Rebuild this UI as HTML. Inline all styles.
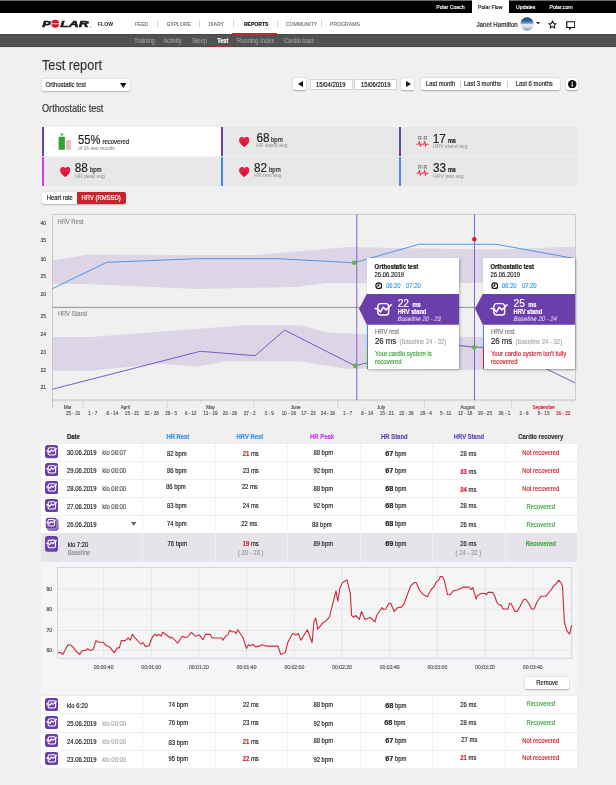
<!DOCTYPE html>
<html><head><meta charset="utf-8"><title>Test report</title>
<style>
html,body{margin:0;padding:0;}
body{width:616px;height:785px;overflow:hidden;position:relative;background:#f0f0f0;font-family:"Liberation Sans", sans-serif;}
.t{position:absolute;line-height:1;white-space:nowrap;-webkit-text-stroke:0.15px currentColor;}
.r{position:absolute;}
.r svg,svg.r{display:block;}
.t b{font-weight:bold;line-height:0;}
</style></head><body>
<div id="wrap" style="position:absolute;left:0;top:0;width:616px;height:785px;overflow:hidden;background:#f0f0f0;will-change:transform">
<div class="r" style="left:0.00px;top:0.00px;width:616.00px;height:12.80px;background:#000;"></div>
<div class="r" style="left:0.00px;top:0.00px;width:616.00px;height:1.00px;background:#707070;"></div>
<div class="r" style="left:472.00px;top:0.00px;width:37.20px;height:12.80px;background:#fff;"></div>
<div class="t" style="left:436.20px;top:5.00px;font-size:5.2px;color:#fff;">Polar Coach</div>
<div class="t" style="left:478.00px;top:5.00px;font-size:5.2px;color:#111;">Polar Flow</div>
<div class="t" style="left:516.00px;top:5.00px;font-size:5.2px;color:#fff;">Updates</div>
<div class="t" style="left:549.60px;top:5.00px;font-size:5.2px;color:#fff;">Polar.com</div>
<div class="r" style="left:0.00px;top:12.80px;width:616.00px;height:21.60px;background:#fff;"></div>
<div class="r" style="left:0.00px;top:34.40px;width:616.00px;height:12.40px;background:#525252;"></div>
<div class="r" style="left:0.00px;top:34.40px;width:616.00px;height:0.80px;background:#474747;"></div>
<div class="r" style="left:0.00px;top:46.20px;width:616.00px;height:0.60px;background:#484848;"></div>
<div class="r" style="left:0.00px;top:46.80px;width:616.00px;height:1.20px;background:#e4e4e4;"></div>
<svg class="r" style="left:40px;top:18px" width="54" height="12" viewBox="0 0 54 12">
<g fill="#1a1a1a" stroke="#1a1a1a" stroke-width="0.55" font-family="Liberation Sans" font-weight="bold" font-style="italic" font-size="9.8">
<text x="2.2" y="9.3" textLength="8.6" lengthAdjust="spacingAndGlyphs">P</text>
<text x="20.3" y="9.3" textLength="28.4" lengthAdjust="spacingAndGlyphs">LAR</text>
</g>
<circle cx="15.3" cy="5.8" r="4.0" fill="#d7192d"/>
<rect x="10.5" y="5.45" width="9.6" height="0.75" fill="#fff"/>
<circle cx="50.6" cy="9.0" r="0.55" fill="#444"/>
</svg>
<svg class="r" style="left:97px;top:21px" width="18" height="6" viewBox="0 0 18 6"><text x="1" y="4.9" font-family="Liberation Sans" font-weight="bold" font-size="4.5" fill="#222" textLength="15" lengthAdjust="spacingAndGlyphs">FLOW</text></svg>
<div class="t" style="left:134.70px;top:22.00px;font-size:5.1px;color:#777;">FEED</div>
<div class="t" style="left:166.90px;top:22.00px;font-size:5.1px;color:#777;">EXPLORE</div>
<div class="t" style="left:208.40px;top:22.00px;font-size:5.1px;color:#777;">DIARY</div>
<div class="t" style="left:243.90px;top:22.00px;font-size:5.1px;color:#111;font-weight:bold;">REPORTS</div>
<div class="t" style="left:285.80px;top:22.00px;font-size:5.1px;color:#777;">COMMUNITY</div>
<div class="t" style="left:330.10px;top:22.00px;font-size:5.1px;color:#777;">PROGRAMS</div>
<div class="r" style="left:156.60px;top:20.20px;width:0.70px;height:7.00px;background:#d6d6d6;"></div>
<div class="r" style="left:198.60px;top:20.20px;width:0.70px;height:7.00px;background:#d6d6d6;"></div>
<div class="r" style="left:232.60px;top:20.20px;width:0.70px;height:7.00px;background:#d6d6d6;"></div>
<div class="r" style="left:277.20px;top:20.20px;width:0.70px;height:7.00px;background:#d6d6d6;"></div>
<div class="r" style="left:320.50px;top:20.20px;width:0.70px;height:7.00px;background:#d6d6d6;"></div>
<div class="r" style="left:232.00px;top:33.20px;width:45.00px;height:1.60px;background:#c4262f;"></div>
<div class="t" style="left:476.50px;top:21.00px;font-size:6.2px;color:#222;transform:scaleY(1.1);transform-origin:0 0;">Janet Hamilton</div>
<svg class="r" style="left:519.5px;top:16.8px" width="14" height="14" viewBox="0 0 14 14">
<defs><clipPath id="av"><circle cx="7" cy="7" r="6.7"/></clipPath>
<linearGradient id="sky" x1="0" y1="0" x2="0" y2="1"><stop offset="0" stop-color="#1c3a68"/><stop offset="0.3" stop-color="#3a64a0"/><stop offset="0.47" stop-color="#8fb0d8"/><stop offset="0.55" stop-color="#eef2f7"/><stop offset="0.75" stop-color="#c8d2de"/><stop offset="1" stop-color="#7d8ea6"/></linearGradient></defs>
<g clip-path="url(#av)"><rect width="14" height="14" fill="url(#sky)"/></g></svg>
<svg class="r" style="left:536px;top:21.5px" width="4" height="3" viewBox="0 0 4 3"><path d="M0 0H4L2 2.6Z" fill="#222"/></svg>
<svg class="r" style="left:548px;top:19.6px" width="9" height="9" viewBox="0 0 24 24"><path d="M12 2.5l2.9 6.6 7.1.6-5.4 4.7 1.6 7-6.2-3.7-6.2 3.7 1.6-7L2 9.7l7.1-.6z" fill="none" stroke="#111" stroke-width="2.7" stroke-linejoin="round"/></svg>
<svg class="r" style="left:565.5px;top:20.5px" width="9.5" height="9" viewBox="0 0 19 18"><path d="M1.5 1.5h16v11.5h-7.5l-2.5 2.8v-2.8h-6z" fill="none" stroke="#111" stroke-width="2.4" stroke-linejoin="miter"/></svg>
<div class="t" style="left:134.20px;top:39.00px;font-size:5.8px;color:#9a9a9a;transform:scaleY(1.1);transform-origin:0 0;">Training</div>
<div class="t" style="left:163.40px;top:39.00px;font-size:5.8px;color:#9a9a9a;transform:scaleY(1.1);transform-origin:0 0;">Activity</div>
<div class="t" style="left:192.20px;top:39.00px;font-size:5.8px;color:#9a9a9a;transform:scaleY(1.1);transform-origin:0 0;">Sleep</div>
<div class="t" style="left:217.20px;top:38.00px;font-size:5.6px;color:#fff;transform:scaleY(1.2);transform-origin:0 0;font-weight:bold;">Test</div>
<div class="t" style="left:237.00px;top:39.00px;font-size:5.8px;color:#9a9a9a;transform:scaleY(1.1);transform-origin:0 0;">Running Index</div>
<div class="t" style="left:283.90px;top:39.00px;font-size:5.8px;color:#9a9a9a;transform:scaleY(1.1);transform-origin:0 0;">Cardio load</div>
<div class="r" style="left:213.70px;top:45.90px;width:18.50px;height:1.60px;background:#c4262f;"></div>
<div class="t" style="left:42.00px;top:59.00px;font-size:12.7px;color:#333;transform:scaleY(1.1);transform-origin:0 0;">Test report</div>
<div class="r" style="left:42.00px;top:78.80px;width:88.30px;height:12.50px;background:#fff;border-radius:2px;box-shadow:0 0.5px 1.5px rgba(0,0,0,0.25);"></div>
<div class="t" style="left:45.60px;top:81.00px;font-size:6.0px;color:#222;transform:scaleY(1.1);transform-origin:0 0;">Orthostatic test</div>
<svg class="r" style="left:120px;top:82.5px" width="6.5" height="5" viewBox="0 0 6.5 5"><path d="M0 0H6.5L3.25 5Z" fill="#111"/></svg>
<div class="t" style="left:42.00px;top:104.00px;font-size:9.15px;color:#333;transform:scaleY(1.1);transform-origin:0 0;">Orthostatic test</div>
<div class="r" style="left:293.00px;top:78.40px;width:13.10px;height:11.80px;background:#fff;border-radius:2px;box-shadow:0 0.5px 1.5px rgba(0,0,0,0.3);"></div>
<svg class="r" style="left:297.5px;top:81.3px" width="5" height="6" viewBox="0 0 5 6"><path d="M5 0V6L0 3Z" fill="#111"/></svg>
<div class="r" style="left:309.50px;top:78.80px;width:43.00px;height:11.40px;background:#fff;box-sizing:border-box;border:0.7px solid #d6d6d6;"></div>
<div class="t" style="left:316.10px;top:83.00px;font-size:5.9px;color:#111;transform:scaleY(1.1);transform-origin:0 0;">15/04/2019</div>
<div class="r" style="left:354.30px;top:78.80px;width:43.20px;height:11.40px;background:#fff;box-sizing:border-box;border:0.7px solid #d6d6d6;"></div>
<div class="t" style="left:361.10px;top:83.00px;font-size:5.9px;color:#111;transform:scaleY(1.1);transform-origin:0 0;">15/06/2019</div>
<div class="r" style="left:401.00px;top:78.40px;width:13.10px;height:11.80px;background:#fff;border-radius:2px;box-shadow:0 0.5px 1.5px rgba(0,0,0,0.3);"></div>
<svg class="r" style="left:405.5px;top:81.3px" width="5" height="6" viewBox="0 0 5 6"><path d="M0 0V6L5 3Z" fill="#111"/></svg>
<div class="r" style="left:421.10px;top:78.10px;width:139.00px;height:11.90px;background:#fff;border-radius:2px;box-shadow:0 0.5px 1.5px rgba(0,0,0,0.3);"></div>
<div class="t" style="left:426.00px;top:82.00px;font-size:5.9px;color:#222;transform:scaleY(1.1);transform-origin:0 0;">Last month</div>
<div class="r" style="left:459.50px;top:80.50px;width:0.60px;height:7.00px;background:#ccc;"></div>
<div class="t" style="left:463.90px;top:82.00px;font-size:5.9px;color:#222;transform:scaleY(1.1);transform-origin:0 0;">Last 3 months</div>
<div class="r" style="left:507.00px;top:80.50px;width:0.60px;height:7.00px;background:#ccc;"></div>
<div class="t" style="left:515.80px;top:82.00px;font-size:5.9px;color:#222;transform:scaleY(1.1);transform-origin:0 0;">Last 6 months</div>
<div class="r" style="left:566.40px;top:78.10px;width:12.10px;height:12.10px;background:#fff;border-radius:2px;box-shadow:0 0.5px 1.5px rgba(0,0,0,0.3);"></div>
<svg class="r" style="left:568.3px;top:80px" width="8.4" height="8.4" viewBox="0 0 10 10"><circle cx="5" cy="5" r="5" fill="#111"/><rect x="4.3" y="4.1" width="1.4" height="3.8" fill="#fff"/><circle cx="5" cy="2.7" r="0.8" fill="#fff"/></svg>
<div class="r" style="left:42.00px;top:127.30px;width:536.20px;height:58.40px;background:#e8e8e8;"></div>
<div class="r" style="left:42.00px;top:127.30px;width:179.00px;height:29.20px;background:#fff;"></div>
<div class="r" style="left:42.00px;top:156.40px;width:536.20px;height:0.70px;background:#efefef;"></div>
<div class="r" style="left:42.00px;top:127.30px;width:2.00px;height:29.10px;background:#6b3fab;"></div>
<div class="r" style="left:42.00px;top:156.80px;width:2.00px;height:28.90px;background:#d23be2;"></div>
<div class="r" style="left:221.00px;top:127.30px;width:2.00px;height:29.10px;background:#6b3fab;"></div>
<div class="r" style="left:221.00px;top:156.80px;width:2.00px;height:28.90px;background:#3c8fe3;"></div>
<div class="r" style="left:399.30px;top:127.30px;width:2.00px;height:29.10px;background:#6b3fab;"></div>
<div class="r" style="left:399.30px;top:156.80px;width:2.00px;height:28.90px;background:#3c8fe3;"></div>
<svg class="r" style="left:58px;top:133px" width="14" height="17" viewBox="0 0 14 17">
<rect x="0.6" y="3.8" width="6.3" height="13" rx="0.6" fill="#33a02f"/>
<path d="M2.4 0.4H5.5L3.95 3.2Z" fill="#33a02f"/>
<rect x="8" y="7" width="5" height="9.8" fill="#efbcc5"/></svg>
<div class="t" style="left:78.00px;top:134.00px;font-size:11.2px;color:#222;transform:scaleY(1.1);transform-origin:0 0;">55%</div>
<div class="t" style="left:102.40px;top:138.00px;font-size:6.0px;color:#222;transform:scaleY(1.1);transform-origin:0 0;">recovered</div>
<div class="t" style="left:78.00px;top:146.00px;font-size:5.0px;color:#a6a6a6;">of 16 test results</div>
<svg class="r" style="left:59.7px;top:166.8px" width="10.6" height="10" viewBox="0 0 10.6 10"><path d="M5.3 10 C2 7.4 0 5.6 0 3.2 0 1.4 1.3 0 3 0 4 0 4.8 .5 5.3 1.3 5.8 .5 6.6 0 7.6 0 9.3 0 10.6 1.4 10.6 3.2 10.6 5.6 8.6 7.4 5.3 10Z" fill="#e81e40"/><path d="M5.3 10 C3.6 8.7 2.4 7.6 1.7 6.6 L5.3 4 8.9 6.6 C8.2 7.6 7 8.7 5.3 10Z" fill="#c8102e" opacity="0.6"/></svg>
<div class="t" style="left:74.80px;top:162.00px;font-size:11.8px;color:#222;transform:scaleY(1.1);transform-origin:0 0;">88</div>
<div class="t" style="left:89.90px;top:166.00px;font-size:6.0px;color:#222;transform:scaleY(1.1);transform-origin:0 0;">bpm</div>
<div class="t" style="left:75.00px;top:174.00px;font-size:5.2px;color:#a6a6a6;">HR peak avg</div>
<svg class="r" style="left:238.6px;top:137px" width="10.6" height="10" viewBox="0 0 10.6 10"><path d="M5.3 10 C2 7.4 0 5.6 0 3.2 0 1.4 1.3 0 3 0 4 0 4.8 .5 5.3 1.3 5.8 .5 6.6 0 7.6 0 9.3 0 10.6 1.4 10.6 3.2 10.6 5.6 8.6 7.4 5.3 10Z" fill="#e81e40"/><path d="M5.3 10 C3.6 8.7 2.4 7.6 1.7 6.6 L5.3 4 8.9 6.6 C8.2 7.6 7 8.7 5.3 10Z" fill="#c8102e" opacity="0.6"/></svg>
<div class="t" style="left:256.50px;top:132.00px;font-size:11.8px;color:#222;transform:scaleY(1.1);transform-origin:0 0;">68</div>
<div class="t" style="left:271.00px;top:136.00px;font-size:6.0px;color:#222;transform:scaleY(1.1);transform-origin:0 0;">bpm</div>
<div class="t" style="left:256.00px;top:143.00px;font-size:5.2px;color:#a6a6a6;">HR stand avg</div>
<svg class="r" style="left:238.6px;top:167px" width="10.6" height="10" viewBox="0 0 10.6 10"><path d="M5.3 10 C2 7.4 0 5.6 0 3.2 0 1.4 1.3 0 3 0 4 0 4.8 .5 5.3 1.3 5.8 .5 6.6 0 7.6 0 9.3 0 10.6 1.4 10.6 3.2 10.6 5.6 8.6 7.4 5.3 10Z" fill="#e81e40"/><path d="M5.3 10 C3.6 8.7 2.4 7.6 1.7 6.6 L5.3 4 8.9 6.6 C8.2 7.6 7 8.7 5.3 10Z" fill="#c8102e" opacity="0.6"/></svg>
<div class="t" style="left:253.90px;top:162.00px;font-size:11.8px;color:#222;transform:scaleY(1.1);transform-origin:0 0;">82</div>
<div class="t" style="left:269.00px;top:166.00px;font-size:6.0px;color:#222;transform:scaleY(1.1);transform-origin:0 0;">bpm</div>
<div class="t" style="left:254.00px;top:173.00px;font-size:5.2px;color:#a6a6a6;">HR rest avg</div>
<svg class="r" style="left:416px;top:135.3px" width="13" height="12" viewBox="0 0 13 12">
<text x="6.6" y="4.5" font-family="Liberation Sans" font-size="5.2" fill="#6e6e6e" stroke="#6e6e6e" stroke-width="0.15" text-anchor="middle">R·R</text>
<path d="M0.4 9.2H2.6L3.5 6.2 4.3 11.4 5 9.2H7.8L8.7 6.2 9.5 11.4 10.2 9.2H12.6" fill="none" stroke="#e83a5a" stroke-width="1.1" stroke-linejoin="round"/></svg>
<div class="t" style="left:432.80px;top:133.00px;font-size:11.8px;color:#222;transform:scaleY(1.1);transform-origin:0 0;">17</div>
<div class="t" style="left:447.90px;top:138.00px;font-size:5.6px;color:#222;transform:scaleY(1.2);transform-origin:0 0;font-weight:bold;">ms</div>
<div class="t" style="left:432.80px;top:144.00px;font-size:5.2px;color:#a6a6a6;">HRV stand avg</div>
<svg class="r" style="left:416px;top:164.3px" width="13" height="12" viewBox="0 0 13 12">
<text x="6.6" y="4.5" font-family="Liberation Sans" font-size="5.2" fill="#6e6e6e" stroke="#6e6e6e" stroke-width="0.15" text-anchor="middle">R·R</text>
<path d="M0.4 9.2H2.6L3.5 6.2 4.3 11.4 5 9.2H7.8L8.7 6.2 9.5 11.4 10.2 9.2H12.6" fill="none" stroke="#e83a5a" stroke-width="1.1" stroke-linejoin="round"/></svg>
<div class="t" style="left:433.00px;top:162.00px;font-size:11.8px;color:#222;transform:scaleY(1.1);transform-origin:0 0;">33</div>
<div class="t" style="left:447.90px;top:167.00px;font-size:5.6px;color:#222;transform:scaleY(1.2);transform-origin:0 0;font-weight:bold;">ms</div>
<div class="t" style="left:433.00px;top:174.00px;font-size:5.2px;color:#a6a6a6;">HRV rest avg</div>
<div class="r" style="left:41.80px;top:191.80px;width:84.00px;height:12.40px;background:#fff;border-radius:2px;box-shadow:0 0.5px 1.5px rgba(0,0,0,0.25);"></div>
<div class="r" style="left:76.90px;top:191.80px;width:48.90px;height:12.40px;background:#c8222d;border-radius:0 2px 2px 0;"></div>
<div class="t" style="left:46.70px;top:196.00px;font-size:5.9px;color:#222;transform:scaleY(1.1);transform-origin:0 0;">Heart rate</div>
<div class="t" style="left:81.60px;top:196.00px;font-size:5.9px;color:#fff;transform:scaleY(1.1);transform-origin:0 0;">HRV (RMSSD)</div>
<svg class="r" style="left:0;top:0" width="616" height="785" viewBox="0 0 616 785"><polygon points="52.5,260.3 87.3,254.8 254.7,255.0 348.8,247.0 420.0,248.5 500.0,249.5 575.0,246.5 575.0,282.5 460.0,283.0 326.0,283.0 296.9,287.0 196.0,288.9 87.0,284.0 52.5,284.0" fill="#dcd5e6"/><polygon points="52.5,337.0 90.6,337.0 244.8,325.3 302.0,325.5 328.6,332.7 380.0,334.5 474.0,337.0 575.0,337.0 575.0,370.0 474.0,370.0 346.0,368.7 302.0,361.4 224.5,361.4 196.1,366.7 159.6,363.8 90.6,370.7 52.5,370.7" fill="#dcd5e6"/><path d="M52.5 214.4H575.5V400" fill="none" stroke="#c6c6c6" stroke-width="0.9"/><path d="M52.5 214.4V408" fill="none" stroke="#c4c4c4" stroke-width="0.9"/><path d="M52.5 400H575.5" fill="none" stroke="#bdbdbd" stroke-width="0.9"/><path d="M52.5 307.4H575" fill="none" stroke="#8a8a8a" stroke-width="0.9"/><path d="M55.0 400V401.8" stroke="#d4d4d4" stroke-width="0.5"/><path d="M57.8 400V401.8" stroke="#d4d4d4" stroke-width="0.5"/><path d="M60.6 400V401.8" stroke="#d4d4d4" stroke-width="0.5"/><path d="M63.4 400V403" stroke="#cccccc" stroke-width="0.6"/><path d="M66.2 400V401.8" stroke="#d4d4d4" stroke-width="0.5"/><path d="M69.0 400V401.8" stroke="#d4d4d4" stroke-width="0.5"/><path d="M71.8 400V401.8" stroke="#d4d4d4" stroke-width="0.5"/><path d="M74.6 400V401.8" stroke="#d4d4d4" stroke-width="0.5"/><path d="M77.4 400V401.8" stroke="#d4d4d4" stroke-width="0.5"/><path d="M80.2 400V401.8" stroke="#d4d4d4" stroke-width="0.5"/><path d="M83.0 400V408.2" stroke="#c8c8c8" stroke-width="0.7"/><path d="M85.8 400V401.8" stroke="#d4d4d4" stroke-width="0.5"/><path d="M88.6 400V401.8" stroke="#d4d4d4" stroke-width="0.5"/><path d="M91.4 400V401.8" stroke="#d4d4d4" stroke-width="0.5"/><path d="M94.2 400V401.8" stroke="#d4d4d4" stroke-width="0.5"/><path d="M97.0 400V401.8" stroke="#d4d4d4" stroke-width="0.5"/><path d="M99.8 400V401.8" stroke="#d4d4d4" stroke-width="0.5"/><path d="M102.6 400V403" stroke="#cccccc" stroke-width="0.6"/><path d="M105.4 400V401.8" stroke="#d4d4d4" stroke-width="0.5"/><path d="M108.2 400V401.8" stroke="#d4d4d4" stroke-width="0.5"/><path d="M111.0 400V401.8" stroke="#d4d4d4" stroke-width="0.5"/><path d="M113.8 400V401.8" stroke="#d4d4d4" stroke-width="0.5"/><path d="M116.6 400V401.8" stroke="#d4d4d4" stroke-width="0.5"/><path d="M119.4 400V401.8" stroke="#d4d4d4" stroke-width="0.5"/><path d="M122.2 400V403" stroke="#cccccc" stroke-width="0.6"/><path d="M125.0 400V401.8" stroke="#d4d4d4" stroke-width="0.5"/><path d="M127.8 400V401.8" stroke="#d4d4d4" stroke-width="0.5"/><path d="M130.6 400V401.8" stroke="#d4d4d4" stroke-width="0.5"/><path d="M133.4 400V401.8" stroke="#d4d4d4" stroke-width="0.5"/><path d="M136.2 400V401.8" stroke="#d4d4d4" stroke-width="0.5"/><path d="M139.0 400V401.8" stroke="#d4d4d4" stroke-width="0.5"/><path d="M141.8 400V403" stroke="#cccccc" stroke-width="0.6"/><path d="M144.6 400V401.8" stroke="#d4d4d4" stroke-width="0.5"/><path d="M147.4 400V401.8" stroke="#d4d4d4" stroke-width="0.5"/><path d="M150.2 400V401.8" stroke="#d4d4d4" stroke-width="0.5"/><path d="M153.0 400V401.8" stroke="#d4d4d4" stroke-width="0.5"/><path d="M155.8 400V401.8" stroke="#d4d4d4" stroke-width="0.5"/><path d="M158.6 400V401.8" stroke="#d4d4d4" stroke-width="0.5"/><path d="M161.4 400V403" stroke="#cccccc" stroke-width="0.6"/><path d="M164.2 400V401.8" stroke="#d4d4d4" stroke-width="0.5"/><path d="M167.0 400V408.2" stroke="#c8c8c8" stroke-width="0.7"/><path d="M169.8 400V401.8" stroke="#d4d4d4" stroke-width="0.5"/><path d="M172.6 400V401.8" stroke="#d4d4d4" stroke-width="0.5"/><path d="M175.4 400V401.8" stroke="#d4d4d4" stroke-width="0.5"/><path d="M178.2 400V401.8" stroke="#d4d4d4" stroke-width="0.5"/><path d="M181.0 400V403" stroke="#cccccc" stroke-width="0.6"/><path d="M183.8 400V401.8" stroke="#d4d4d4" stroke-width="0.5"/><path d="M186.6 400V401.8" stroke="#d4d4d4" stroke-width="0.5"/><path d="M189.4 400V401.8" stroke="#d4d4d4" stroke-width="0.5"/><path d="M192.2 400V401.8" stroke="#d4d4d4" stroke-width="0.5"/><path d="M195.0 400V401.8" stroke="#d4d4d4" stroke-width="0.5"/><path d="M197.8 400V401.8" stroke="#d4d4d4" stroke-width="0.5"/><path d="M200.6 400V403" stroke="#cccccc" stroke-width="0.6"/><path d="M203.4 400V401.8" stroke="#d4d4d4" stroke-width="0.5"/><path d="M206.2 400V401.8" stroke="#d4d4d4" stroke-width="0.5"/><path d="M209.0 400V401.8" stroke="#d4d4d4" stroke-width="0.5"/><path d="M211.8 400V401.8" stroke="#d4d4d4" stroke-width="0.5"/><path d="M214.6 400V401.8" stroke="#d4d4d4" stroke-width="0.5"/><path d="M217.4 400V401.8" stroke="#d4d4d4" stroke-width="0.5"/><path d="M220.2 400V403" stroke="#cccccc" stroke-width="0.6"/><path d="M223.0 400V401.8" stroke="#d4d4d4" stroke-width="0.5"/><path d="M225.8 400V401.8" stroke="#d4d4d4" stroke-width="0.5"/><path d="M228.6 400V401.8" stroke="#d4d4d4" stroke-width="0.5"/><path d="M231.4 400V401.8" stroke="#d4d4d4" stroke-width="0.5"/><path d="M234.2 400V401.8" stroke="#d4d4d4" stroke-width="0.5"/><path d="M237.0 400V401.8" stroke="#d4d4d4" stroke-width="0.5"/><path d="M239.8 400V403" stroke="#cccccc" stroke-width="0.6"/><path d="M242.6 400V401.8" stroke="#d4d4d4" stroke-width="0.5"/><path d="M245.4 400V401.8" stroke="#d4d4d4" stroke-width="0.5"/><path d="M248.2 400V401.8" stroke="#d4d4d4" stroke-width="0.5"/><path d="M251.0 400V401.8" stroke="#d4d4d4" stroke-width="0.5"/><path d="M253.8 400V408.2" stroke="#c8c8c8" stroke-width="0.7"/><path d="M256.6 400V401.8" stroke="#d4d4d4" stroke-width="0.5"/><path d="M259.4 400V403" stroke="#cccccc" stroke-width="0.6"/><path d="M262.2 400V401.8" stroke="#d4d4d4" stroke-width="0.5"/><path d="M265.0 400V401.8" stroke="#d4d4d4" stroke-width="0.5"/><path d="M267.8 400V401.8" stroke="#d4d4d4" stroke-width="0.5"/><path d="M270.6 400V401.8" stroke="#d4d4d4" stroke-width="0.5"/><path d="M273.4 400V401.8" stroke="#d4d4d4" stroke-width="0.5"/><path d="M276.2 400V401.8" stroke="#d4d4d4" stroke-width="0.5"/><path d="M279.0 400V403" stroke="#cccccc" stroke-width="0.6"/><path d="M281.8 400V401.8" stroke="#d4d4d4" stroke-width="0.5"/><path d="M284.6 400V401.8" stroke="#d4d4d4" stroke-width="0.5"/><path d="M287.4 400V401.8" stroke="#d4d4d4" stroke-width="0.5"/><path d="M290.2 400V401.8" stroke="#d4d4d4" stroke-width="0.5"/><path d="M293.0 400V401.8" stroke="#d4d4d4" stroke-width="0.5"/><path d="M295.8 400V401.8" stroke="#d4d4d4" stroke-width="0.5"/><path d="M298.6 400V403" stroke="#cccccc" stroke-width="0.6"/><path d="M301.4 400V401.8" stroke="#d4d4d4" stroke-width="0.5"/><path d="M304.2 400V401.8" stroke="#d4d4d4" stroke-width="0.5"/><path d="M307.0 400V401.8" stroke="#d4d4d4" stroke-width="0.5"/><path d="M309.8 400V401.8" stroke="#d4d4d4" stroke-width="0.5"/><path d="M312.6 400V401.8" stroke="#d4d4d4" stroke-width="0.5"/><path d="M315.4 400V401.8" stroke="#d4d4d4" stroke-width="0.5"/><path d="M318.2 400V403" stroke="#cccccc" stroke-width="0.6"/><path d="M321.0 400V401.8" stroke="#d4d4d4" stroke-width="0.5"/><path d="M323.8 400V401.8" stroke="#d4d4d4" stroke-width="0.5"/><path d="M326.6 400V401.8" stroke="#d4d4d4" stroke-width="0.5"/><path d="M329.4 400V401.8" stroke="#d4d4d4" stroke-width="0.5"/><path d="M332.2 400V401.8" stroke="#d4d4d4" stroke-width="0.5"/><path d="M335.0 400V401.8" stroke="#d4d4d4" stroke-width="0.5"/><path d="M337.8 400V408.2" stroke="#c8c8c8" stroke-width="0.7"/><path d="M340.6 400V401.8" stroke="#d4d4d4" stroke-width="0.5"/><path d="M343.4 400V401.8" stroke="#d4d4d4" stroke-width="0.5"/><path d="M346.2 400V401.8" stroke="#d4d4d4" stroke-width="0.5"/><path d="M349.0 400V401.8" stroke="#d4d4d4" stroke-width="0.5"/><path d="M351.8 400V401.8" stroke="#d4d4d4" stroke-width="0.5"/><path d="M354.6 400V401.8" stroke="#d4d4d4" stroke-width="0.5"/><path d="M357.4 400V403" stroke="#cccccc" stroke-width="0.6"/><path d="M360.2 400V401.8" stroke="#d4d4d4" stroke-width="0.5"/><path d="M363.0 400V401.8" stroke="#d4d4d4" stroke-width="0.5"/><path d="M365.8 400V401.8" stroke="#d4d4d4" stroke-width="0.5"/><path d="M368.6 400V401.8" stroke="#d4d4d4" stroke-width="0.5"/><path d="M371.4 400V401.8" stroke="#d4d4d4" stroke-width="0.5"/><path d="M374.2 400V401.8" stroke="#d4d4d4" stroke-width="0.5"/><path d="M377.0 400V403" stroke="#cccccc" stroke-width="0.6"/><path d="M379.8 400V401.8" stroke="#d4d4d4" stroke-width="0.5"/><path d="M382.6 400V401.8" stroke="#d4d4d4" stroke-width="0.5"/><path d="M385.4 400V401.8" stroke="#d4d4d4" stroke-width="0.5"/><path d="M388.2 400V401.8" stroke="#d4d4d4" stroke-width="0.5"/><path d="M391.0 400V401.8" stroke="#d4d4d4" stroke-width="0.5"/><path d="M393.8 400V401.8" stroke="#d4d4d4" stroke-width="0.5"/><path d="M396.6 400V403" stroke="#cccccc" stroke-width="0.6"/><path d="M399.4 400V401.8" stroke="#d4d4d4" stroke-width="0.5"/><path d="M402.2 400V401.8" stroke="#d4d4d4" stroke-width="0.5"/><path d="M405.0 400V401.8" stroke="#d4d4d4" stroke-width="0.5"/><path d="M407.8 400V401.8" stroke="#d4d4d4" stroke-width="0.5"/><path d="M410.6 400V401.8" stroke="#d4d4d4" stroke-width="0.5"/><path d="M413.4 400V401.8" stroke="#d4d4d4" stroke-width="0.5"/><path d="M416.2 400V403" stroke="#cccccc" stroke-width="0.6"/><path d="M419.0 400V401.8" stroke="#d4d4d4" stroke-width="0.5"/><path d="M421.8 400V401.8" stroke="#d4d4d4" stroke-width="0.5"/><path d="M424.6 400V408.2" stroke="#c8c8c8" stroke-width="0.7"/><path d="M427.4 400V401.8" stroke="#d4d4d4" stroke-width="0.5"/><path d="M430.2 400V401.8" stroke="#d4d4d4" stroke-width="0.5"/><path d="M433.0 400V401.8" stroke="#d4d4d4" stroke-width="0.5"/><path d="M435.8 400V403" stroke="#cccccc" stroke-width="0.6"/><path d="M438.6 400V401.8" stroke="#d4d4d4" stroke-width="0.5"/><path d="M441.4 400V401.8" stroke="#d4d4d4" stroke-width="0.5"/><path d="M444.2 400V401.8" stroke="#d4d4d4" stroke-width="0.5"/><path d="M447.0 400V401.8" stroke="#d4d4d4" stroke-width="0.5"/><path d="M449.8 400V401.8" stroke="#d4d4d4" stroke-width="0.5"/><path d="M452.6 400V401.8" stroke="#d4d4d4" stroke-width="0.5"/><path d="M455.4 400V403" stroke="#cccccc" stroke-width="0.6"/><path d="M458.2 400V401.8" stroke="#d4d4d4" stroke-width="0.5"/><path d="M461.0 400V401.8" stroke="#d4d4d4" stroke-width="0.5"/><path d="M463.8 400V401.8" stroke="#d4d4d4" stroke-width="0.5"/><path d="M466.6 400V401.8" stroke="#d4d4d4" stroke-width="0.5"/><path d="M469.4 400V401.8" stroke="#d4d4d4" stroke-width="0.5"/><path d="M472.2 400V401.8" stroke="#d4d4d4" stroke-width="0.5"/><path d="M475.0 400V403" stroke="#cccccc" stroke-width="0.6"/><path d="M477.8 400V401.8" stroke="#d4d4d4" stroke-width="0.5"/><path d="M480.6 400V401.8" stroke="#d4d4d4" stroke-width="0.5"/><path d="M483.4 400V401.8" stroke="#d4d4d4" stroke-width="0.5"/><path d="M486.2 400V401.8" stroke="#d4d4d4" stroke-width="0.5"/><path d="M489.0 400V401.8" stroke="#d4d4d4" stroke-width="0.5"/><path d="M491.8 400V401.8" stroke="#d4d4d4" stroke-width="0.5"/><path d="M494.6 400V403" stroke="#cccccc" stroke-width="0.6"/><path d="M497.4 400V401.8" stroke="#d4d4d4" stroke-width="0.5"/><path d="M500.2 400V401.8" stroke="#d4d4d4" stroke-width="0.5"/><path d="M503.0 400V401.8" stroke="#d4d4d4" stroke-width="0.5"/><path d="M505.8 400V401.8" stroke="#d4d4d4" stroke-width="0.5"/><path d="M508.6 400V401.8" stroke="#d4d4d4" stroke-width="0.5"/><path d="M511.4 400V408.2" stroke="#c8c8c8" stroke-width="0.7"/><path d="M514.2 400V403" stroke="#cccccc" stroke-width="0.6"/><path d="M517.0 400V401.8" stroke="#d4d4d4" stroke-width="0.5"/><path d="M519.8 400V401.8" stroke="#d4d4d4" stroke-width="0.5"/><path d="M522.6 400V401.8" stroke="#d4d4d4" stroke-width="0.5"/><path d="M525.4 400V401.8" stroke="#d4d4d4" stroke-width="0.5"/><path d="M528.2 400V401.8" stroke="#d4d4d4" stroke-width="0.5"/><path d="M531.0 400V401.8" stroke="#d4d4d4" stroke-width="0.5"/><path d="M533.8 400V403" stroke="#cccccc" stroke-width="0.6"/><path d="M536.6 400V401.8" stroke="#d4d4d4" stroke-width="0.5"/><path d="M539.4 400V401.8" stroke="#d4d4d4" stroke-width="0.5"/><path d="M542.2 400V401.8" stroke="#d4d4d4" stroke-width="0.5"/><path d="M545.0 400V401.8" stroke="#d4d4d4" stroke-width="0.5"/><path d="M547.8 400V401.8" stroke="#d4d4d4" stroke-width="0.5"/><path d="M550.6 400V401.8" stroke="#d4d4d4" stroke-width="0.5"/><path d="M553.4 400V403" stroke="#cccccc" stroke-width="0.6"/><path d="M556.2 400V401.8" stroke="#d4d4d4" stroke-width="0.5"/><path d="M559.0 400V401.8" stroke="#d4d4d4" stroke-width="0.5"/><path d="M561.8 400V401.8" stroke="#d4d4d4" stroke-width="0.5"/><path d="M564.6 400V401.8" stroke="#d4d4d4" stroke-width="0.5"/><path d="M567.4 400V401.8" stroke="#d4d4d4" stroke-width="0.5"/><path d="M570.2 400V401.8" stroke="#d4d4d4" stroke-width="0.5"/><path d="M573.0 400V403" stroke="#cccccc" stroke-width="0.6"/><polyline points="52.5,288.6 106.8,262.3 197.7,258.7 277.4,258.7 354.0,262.8 419.3,244.2 496.5,244.3 575.0,258.6" fill="none" stroke="#3c8fe3" stroke-width="0.9"/><polyline points="52.5,389.2 200.2,351.3 255.0,355.7 284.6,330.1 355.0,365.8 445.0,344.0 474.2,347.2 500.0,347.5 546.8,369.2 575.0,382.8" fill="none" stroke="#7048c0" stroke-width="0.9"/><path d="M356.8 214.4V400M474.5 214.4V400" stroke="#7a52c4" stroke-width="0.9"/><circle cx="354.2" cy="262.8" r="2.2" fill="#5cb83e"/><circle cx="474.3" cy="239.3" r="2.2" fill="#d8202c"/><circle cx="355" cy="365.8" r="2.2" fill="#5cb83e"/><circle cx="474.3" cy="347.2" r="2.2" fill="#5cb83e"/></svg>
<div class="t" style="left:26.00px;top:221.00px;font-size:5.0px;color:#444;width:20.00px;text-align:right;">40</div>
<div class="t" style="left:26.00px;top:238.00px;font-size:5.0px;color:#444;width:20.00px;text-align:right;">35</div>
<div class="t" style="left:26.00px;top:257.00px;font-size:5.0px;color:#444;width:20.00px;text-align:right;">30</div>
<div class="t" style="left:26.00px;top:274.00px;font-size:5.0px;color:#444;width:20.00px;text-align:right;">25</div>
<div class="t" style="left:26.00px;top:292.00px;font-size:5.0px;color:#444;width:20.00px;text-align:right;">20</div>
<div class="t" style="left:26.00px;top:314.00px;font-size:5.0px;color:#444;width:20.00px;text-align:right;">25</div>
<div class="t" style="left:26.00px;top:332.00px;font-size:5.0px;color:#444;width:20.00px;text-align:right;">24</div>
<div class="t" style="left:26.00px;top:350.00px;font-size:5.0px;color:#444;width:20.00px;text-align:right;">23</div>
<div class="t" style="left:26.00px;top:368.00px;font-size:5.0px;color:#444;width:20.00px;text-align:right;">22</div>
<div class="t" style="left:26.00px;top:385.00px;font-size:5.0px;color:#444;width:20.00px;text-align:right;">21</div>
<div class="t" style="left:57.40px;top:220.00px;font-size:5.9px;color:#8a8a8a;transform:scaleY(1.1);transform-origin:0 0;">HRV Rest</div>
<div class="t" style="left:57.70px;top:312.00px;font-size:5.9px;color:#8a8a8a;transform:scaleY(1.1);transform-origin:0 0;">HRV Stand</div>
<div class="t" style="left:53.20px;top:412.00px;font-size:4.6px;color:#555;width:40.00px;text-align:center;">25 - 31</div>
<div class="t" style="left:72.80px;top:412.00px;font-size:4.6px;color:#555;width:40.00px;text-align:center;">1 - 7</div>
<div class="t" style="left:92.40px;top:412.00px;font-size:4.6px;color:#555;width:40.00px;text-align:center;">8 - 14</div>
<div class="t" style="left:112.00px;top:412.00px;font-size:4.6px;color:#555;width:40.00px;text-align:center;">15 - 21</div>
<div class="t" style="left:131.60px;top:412.00px;font-size:4.6px;color:#555;width:40.00px;text-align:center;">22 - 28</div>
<div class="t" style="left:151.20px;top:412.00px;font-size:4.6px;color:#555;width:40.00px;text-align:center;">29 - 5</div>
<div class="t" style="left:170.80px;top:412.00px;font-size:4.6px;color:#555;width:40.00px;text-align:center;">6 - 12</div>
<div class="t" style="left:190.40px;top:412.00px;font-size:4.6px;color:#555;width:40.00px;text-align:center;">13 - 19</div>
<div class="t" style="left:210.00px;top:412.00px;font-size:4.6px;color:#555;width:40.00px;text-align:center;">20 - 26</div>
<div class="t" style="left:229.60px;top:412.00px;font-size:4.6px;color:#555;width:40.00px;text-align:center;">27 - 2</div>
<div class="t" style="left:249.20px;top:412.00px;font-size:4.6px;color:#555;width:40.00px;text-align:center;">3 - 9</div>
<div class="t" style="left:268.80px;top:412.00px;font-size:4.6px;color:#555;width:40.00px;text-align:center;">10 - 16</div>
<div class="t" style="left:288.40px;top:412.00px;font-size:4.6px;color:#555;width:40.00px;text-align:center;">17 - 23</div>
<div class="t" style="left:308.00px;top:412.00px;font-size:4.6px;color:#555;width:40.00px;text-align:center;">24 - 30</div>
<div class="t" style="left:327.60px;top:412.00px;font-size:4.6px;color:#555;width:40.00px;text-align:center;">1 - 7</div>
<div class="t" style="left:347.20px;top:412.00px;font-size:4.6px;color:#555;width:40.00px;text-align:center;">8 - 14</div>
<div class="t" style="left:366.80px;top:412.00px;font-size:4.6px;color:#555;width:40.00px;text-align:center;">15 - 21</div>
<div class="t" style="left:386.40px;top:412.00px;font-size:4.6px;color:#555;width:40.00px;text-align:center;">22 - 28</div>
<div class="t" style="left:406.00px;top:412.00px;font-size:4.6px;color:#555;width:40.00px;text-align:center;">29 - 4</div>
<div class="t" style="left:425.60px;top:412.00px;font-size:4.6px;color:#555;width:40.00px;text-align:center;">5 - 11</div>
<div class="t" style="left:445.20px;top:412.00px;font-size:4.6px;color:#555;width:40.00px;text-align:center;">12 - 18</div>
<div class="t" style="left:464.80px;top:412.00px;font-size:4.6px;color:#555;width:40.00px;text-align:center;">19 - 25</div>
<div class="t" style="left:484.40px;top:412.00px;font-size:4.6px;color:#555;width:40.00px;text-align:center;">26 - 1</div>
<div class="t" style="left:504.00px;top:412.00px;font-size:4.6px;color:#555;width:40.00px;text-align:center;">2 - 8</div>
<div class="t" style="left:523.60px;top:412.00px;font-size:4.6px;color:#555;width:40.00px;text-align:center;">9 - 15</div>
<div class="t" style="left:543.20px;top:412.00px;font-size:4.6px;color:#d0202f;width:40.00px;text-align:center;">16 - 22</div>
<div class="t" style="left:42.60px;top:406.00px;font-size:4.6px;color:#555;width:50.00px;text-align:center;">Mar</div>
<div class="t" style="left:100.30px;top:406.00px;font-size:4.6px;color:#555;width:50.00px;text-align:center;">April</div>
<div class="t" style="left:185.50px;top:406.00px;font-size:4.6px;color:#555;width:50.00px;text-align:center;">May</div>
<div class="t" style="left:270.70px;top:406.00px;font-size:4.6px;color:#555;width:50.00px;text-align:center;">June</div>
<div class="t" style="left:356.00px;top:406.00px;font-size:4.6px;color:#555;width:50.00px;text-align:center;">July</div>
<div class="t" style="left:442.70px;top:406.00px;font-size:4.6px;color:#555;width:50.00px;text-align:center;">August</div>
<div class="t" style="left:518.80px;top:406.00px;font-size:4.6px;color:#d0202f;width:50.00px;text-align:center;">September</div>
<div class="r" style="left:366.60px;top:258.10px;width:92.50px;height:110.60px;background:#fff;box-shadow:0.5px 1px 2.5px rgba(0,0,0,0.3);"></div>
<div class="t" style="left:374.60px;top:265.00px;font-size:5.9px;color:#111;transform:scaleY(1.1);transform-origin:0 0;font-weight:bold;">Orthostatic test</div>
<div class="t" style="left:374.60px;top:273.00px;font-size:5.9px;color:#222;transform:scaleY(1.1);transform-origin:0 0;">26.06.2019</div>
<div class="r" style="left:374.80px;top:281.8px"><svg width="7.5" height="7.5" viewBox="0 0 10 10"><circle cx="5" cy="5" r="3.9" fill="none" stroke="#111" stroke-width="1.6"/><path d="M5 2.4V5.4H2.8" fill="none" stroke="#111" stroke-width="1.4"/></svg></div>
<div class="t" style="left:385.90px;top:284.00px;font-size:5.9px;color:#3b9ce9;transform:scaleY(1.1);transform-origin:0 0;">06:20</div>
<div class="t" style="left:406.00px;top:284.00px;font-size:5.9px;color:#3b9ce9;transform:scaleY(1.1);transform-origin:0 0;">07:20</div>
<svg class="r" style="left:358.80px;top:294.2px" width="100.30" height="30.8" viewBox="0 0 100.30 30.8"><path d="M7.80 0H100.30V30.8H7.80L0 14.8Z" fill="#6b3fab"/></svg>
<div class="r" style="left:373.90px;top:302.3px"><svg width="18.5" height="14.5" viewBox="0 0 18.5 14.5"><rect x="3.8" y="1.6" width="10.9" height="11.4" rx="2.8" fill="none" stroke="#fff" stroke-width="1.4"/><path d="M1.1 6.4L3.8 6.7 6.5 9.9 9.3 5.2 12 7.9 17.1 2.8" fill="none" stroke="#fff" stroke-width="1.5" stroke-linecap="round" stroke-linejoin="round"/></svg></div>
<div class="t" style="left:397.70px;top:299.00px;font-size:10.2px;color:#fff;">22</div>
<div class="t" style="left:412.40px;top:303.00px;font-size:5.7px;color:#fff;transform:scaleY(1.1);transform-origin:0 0;font-weight:bold;">ms</div>
<div class="t" style="left:397.70px;top:310.00px;font-size:5.7px;color:#fff;transform:scaleY(1.1);transform-origin:0 0;font-weight:bold;">HRV stand</div>
<div class="t" style="left:398.30px;top:315.00px;font-size:6.0px;color:#d8cbee;transform:scaleY(1.1) skewX(-9deg);transform-origin:0 0;font-style:italic;">Baseline 20 - 23</div>
<div class="r" style="left:366.60px;top:325.40px;width:1.50px;height:22.40px;background:#3c8fe3;"></div>
<div class="r" style="left:366.60px;top:347.80px;width:1.50px;height:20.90px;background:#3da43a;"></div>
<div class="t" style="left:375.00px;top:330.00px;font-size:5.9px;color:#777;transform:scaleY(1.1);transform-origin:0 0;">HRV rest</div>
<div class="t" style="left:375.00px;top:337.00px;font-size:7.8px;color:#222;transform:scaleY(1.1);transform-origin:0 0;">26 ms</div>
<div class="t" style="left:399.70px;top:340.00px;font-size:5.9px;color:#aaa;transform:scaleY(1.1);transform-origin:0 0;">(Baseline 24 - 32)</div>
<div class="t" style="left:375.00px;top:350.00px;font-size:6.0px;color:#3da43a;transform:scaleY(1.1);transform-origin:0 0;">Your cardio system is</div>
<div class="t" style="left:375.00px;top:358.00px;font-size:6.0px;color:#3da43a;transform:scaleY(1.1);transform-origin:0 0;">recovered</div>
<div class="r" style="left:482.50px;top:258.10px;width:92.50px;height:110.60px;background:#fff;box-shadow:0.5px 1px 2.5px rgba(0,0,0,0.3);"></div>
<div class="t" style="left:490.50px;top:265.00px;font-size:5.9px;color:#111;transform:scaleY(1.1);transform-origin:0 0;font-weight:bold;">Orthostatic test</div>
<div class="t" style="left:490.50px;top:273.00px;font-size:5.9px;color:#222;transform:scaleY(1.1);transform-origin:0 0;">26.06.2019</div>
<div class="r" style="left:490.70px;top:281.8px"><svg width="7.5" height="7.5" viewBox="0 0 10 10"><circle cx="5" cy="5" r="3.9" fill="none" stroke="#111" stroke-width="1.6"/><path d="M5 2.4V5.4H2.8" fill="none" stroke="#111" stroke-width="1.4"/></svg></div>
<div class="t" style="left:501.80px;top:284.00px;font-size:5.9px;color:#3b9ce9;transform:scaleY(1.1);transform-origin:0 0;">06:20</div>
<div class="t" style="left:521.90px;top:284.00px;font-size:5.9px;color:#3b9ce9;transform:scaleY(1.1);transform-origin:0 0;">07:20</div>
<svg class="r" style="left:474.70px;top:294.2px" width="100.30" height="30.8" viewBox="0 0 100.30 30.8"><path d="M7.80 0H100.30V30.8H7.80L0 14.8Z" fill="#6b3fab"/></svg>
<div class="r" style="left:489.80px;top:302.3px"><svg width="18.5" height="14.5" viewBox="0 0 18.5 14.5"><rect x="3.8" y="1.6" width="10.9" height="11.4" rx="2.8" fill="none" stroke="#fff" stroke-width="1.4"/><path d="M1.1 6.4L3.8 6.7 6.5 9.9 9.3 5.2 12 7.9 17.1 2.8" fill="none" stroke="#fff" stroke-width="1.5" stroke-linecap="round" stroke-linejoin="round"/></svg></div>
<div class="t" style="left:513.60px;top:299.00px;font-size:10.2px;color:#fff;">25</div>
<div class="t" style="left:528.30px;top:303.00px;font-size:5.7px;color:#fff;transform:scaleY(1.1);transform-origin:0 0;font-weight:bold;">ms</div>
<div class="t" style="left:513.60px;top:310.00px;font-size:5.7px;color:#fff;transform:scaleY(1.1);transform-origin:0 0;font-weight:bold;">HRV stand</div>
<div class="t" style="left:514.20px;top:315.00px;font-size:6.0px;color:#d8cbee;transform:scaleY(1.1) skewX(-9deg);transform-origin:0 0;font-style:italic;">Baseline 20 - 24</div>
<div class="r" style="left:482.50px;top:325.40px;width:1.50px;height:22.40px;background:#3c8fe3;"></div>
<div class="r" style="left:482.50px;top:347.80px;width:1.50px;height:20.90px;background:#d0202f;"></div>
<div class="t" style="left:490.90px;top:330.00px;font-size:5.9px;color:#777;transform:scaleY(1.1);transform-origin:0 0;">HRV rest</div>
<div class="t" style="left:490.90px;top:337.00px;font-size:7.8px;color:#222;transform:scaleY(1.1);transform-origin:0 0;">26 ms</div>
<div class="t" style="left:515.60px;top:340.00px;font-size:5.9px;color:#aaa;transform:scaleY(1.1);transform-origin:0 0;">(Baseline 24 - 32)</div>
<div class="t" style="left:490.90px;top:350.00px;font-size:6.0px;color:#d0202f;transform:scaleY(1.1);transform-origin:0 0;">Your cardio system isn't fully</div>
<div class="t" style="left:490.90px;top:358.00px;font-size:6.0px;color:#d0202f;transform:scaleY(1.1);transform-origin:0 0;">recovered</div>
<div class="t" style="left:67.10px;top:435.00px;font-size:5.9px;color:#222;transform:scaleY(1.1);transform-origin:0 0;font-weight:bold;">Date</div>
<div class="t" style="left:117.90px;top:435.00px;font-size:5.9px;color:#3c8fe3;transform:scaleY(1.1);transform-origin:0 0;font-weight:bold;width:120.00px;text-align:center;">HR Rest</div>
<div class="t" style="left:189.95px;top:435.00px;font-size:5.9px;color:#3c8fe3;transform:scaleY(1.1);transform-origin:0 0;font-weight:bold;width:120.00px;text-align:center;">HRV Rest</div>
<div class="t" style="left:262.05px;top:435.00px;font-size:5.9px;color:#c43de6;transform:scaleY(1.1);transform-origin:0 0;font-weight:bold;width:120.00px;text-align:center;">HR Peak</div>
<div class="t" style="left:334.35px;top:435.00px;font-size:5.9px;color:#6446c2;transform:scaleY(1.1);transform-origin:0 0;font-weight:bold;width:120.00px;text-align:center;">HR Stand</div>
<div class="t" style="left:408.95px;top:435.00px;font-size:5.9px;color:#6446c2;transform:scaleY(1.1);transform-origin:0 0;font-weight:bold;width:120.00px;text-align:center;">HRV Stand</div>
<div class="t" style="left:480.75px;top:435.00px;font-size:5.9px;color:#333;transform:scaleY(1.1);transform-origin:0 0;font-weight:bold;width:120.00px;text-align:center;">Cardio recovery</div>
<div class="r" style="left:41.30px;top:443.50px;width:535.70px;height:17.70px;background:#fff;"></div>
<div class="r" style="left:41.30px;top:443.00px;width:535.70px;height:1.00px;background:#ededed;"></div>
<div class="r" style="left:142.30px;top:443.50px;width:0.90px;height:17.70px;background:#f3f3f3;"></div>
<div class="r" style="left:214.50px;top:443.50px;width:0.90px;height:17.70px;background:#f3f3f3;"></div>
<div class="r" style="left:287.00px;top:443.50px;width:0.90px;height:17.70px;background:#f3f3f3;"></div>
<div class="r" style="left:359.50px;top:443.50px;width:0.90px;height:17.70px;background:#f3f3f3;"></div>
<div class="r" style="left:432.20px;top:443.50px;width:0.90px;height:17.70px;background:#f3f3f3;"></div>
<div class="r" style="left:504.50px;top:443.50px;width:0.90px;height:17.70px;background:#f3f3f3;"></div>
<svg class="r" style="left:45.30px;top:445.45px" width="13.2" height="13.2" viewBox="0 0 13.2 13.2"><rect width="13.2" height="13.2" rx="2.7" fill="#6b3fab"/><rect x="3.1" y="2.7" width="7.5" height="7.3" rx="1.7" fill="none" stroke="#fff" stroke-width="1.1"/><path d="M1.7 5.9H3.1L4.9 7.4 6.4 4.9 7.9 6.4 11.5 3.4" fill="none" stroke="#fff" stroke-width="1.15" stroke-linecap="round" stroke-linejoin="round"/></svg>
<div class="t" style="left:67.10px;top:451.00px;font-size:5.9px;color:#222;transform:scaleY(1.1);transform-origin:0 0;">30.06.2019</div>
<div class="t" style="left:102.20px;top:451.00px;font-size:5.9px;color:#555;transform:scaleY(1.1);transform-origin:0 0;">klo 08:07</div>
<div class="t" style="left:116.90px;top:452.00px;font-size:5.9px;color:#222;transform:scaleY(1.1);transform-origin:0 0;width:120.00px;text-align:center;">82 bpm</div>
<div class="t" style="left:190.75px;top:452.00px;font-size:5.9px;color:#222;transform:scaleY(1.1);transform-origin:0 0;width:120.00px;text-align:center;"><b style="color:#d0202f">21</b> ms</div>
<div class="t" style="left:263.25px;top:451.00px;font-size:5.9px;color:#222;transform:scaleY(1.1);transform-origin:0 0;width:120.00px;text-align:center;">88 bpm</div>
<div class="t" style="left:335.85px;top:452.00px;font-size:5.9px;color:#222;transform:scaleY(1.1);transform-origin:0 0;width:120.00px;text-align:center;"><b style="font-size:7.3px">67</b> bpm</div>
<div class="t" style="left:408.35px;top:452.00px;font-size:5.9px;color:#222;transform:scaleY(1.1);transform-origin:0 0;width:120.00px;text-align:center;">28 ms</div>
<div class="t" style="left:480.75px;top:451.00px;font-size:5.9px;color:#d0202f;transform:scaleY(1.1);transform-origin:0 0;width:120.00px;text-align:center;">Not recovered</div>
<div class="r" style="left:41.30px;top:461.20px;width:535.70px;height:17.90px;background:#fff;"></div>
<div class="r" style="left:41.30px;top:460.70px;width:535.70px;height:1.00px;background:#ededed;"></div>
<div class="r" style="left:142.30px;top:461.20px;width:0.90px;height:17.90px;background:#f3f3f3;"></div>
<div class="r" style="left:214.50px;top:461.20px;width:0.90px;height:17.90px;background:#f3f3f3;"></div>
<div class="r" style="left:287.00px;top:461.20px;width:0.90px;height:17.90px;background:#f3f3f3;"></div>
<div class="r" style="left:359.50px;top:461.20px;width:0.90px;height:17.90px;background:#f3f3f3;"></div>
<div class="r" style="left:432.20px;top:461.20px;width:0.90px;height:17.90px;background:#f3f3f3;"></div>
<div class="r" style="left:504.50px;top:461.20px;width:0.90px;height:17.90px;background:#f3f3f3;"></div>
<svg class="r" style="left:45.30px;top:463.25px" width="13.2" height="13.2" viewBox="0 0 13.2 13.2"><rect width="13.2" height="13.2" rx="2.7" fill="#6b3fab"/><rect x="3.1" y="2.7" width="7.5" height="7.3" rx="1.7" fill="none" stroke="#fff" stroke-width="1.1"/><path d="M1.7 5.9H3.1L4.9 7.4 6.4 4.9 7.9 6.4 11.5 3.4" fill="none" stroke="#fff" stroke-width="1.15" stroke-linecap="round" stroke-linejoin="round"/></svg>
<div class="t" style="left:67.10px;top:469.00px;font-size:5.9px;color:#222;transform:scaleY(1.1);transform-origin:0 0;">29.06.2019</div>
<div class="t" style="left:102.20px;top:469.00px;font-size:5.9px;color:#555;transform:scaleY(1.1);transform-origin:0 0;">klo 08:00</div>
<div class="t" style="left:116.90px;top:469.00px;font-size:5.9px;color:#222;transform:scaleY(1.1);transform-origin:0 0;width:120.00px;text-align:center;">86 bpm</div>
<div class="t" style="left:190.75px;top:469.00px;font-size:5.9px;color:#222;transform:scaleY(1.1);transform-origin:0 0;width:120.00px;text-align:center;">23 ms</div>
<div class="t" style="left:263.25px;top:469.00px;font-size:5.9px;color:#222;transform:scaleY(1.1);transform-origin:0 0;width:120.00px;text-align:center;">92 bpm</div>
<div class="t" style="left:335.85px;top:469.00px;font-size:5.9px;color:#222;transform:scaleY(1.1);transform-origin:0 0;width:120.00px;text-align:center;"><b style="font-size:7.3px">67</b> bpm</div>
<div class="t" style="left:408.35px;top:470.00px;font-size:5.9px;color:#222;transform:scaleY(1.1);transform-origin:0 0;width:120.00px;text-align:center;"><b style="color:#d0202f">33</b> ms</div>
<div class="t" style="left:480.75px;top:469.00px;font-size:5.9px;color:#d0202f;transform:scaleY(1.1);transform-origin:0 0;width:120.00px;text-align:center;">Not recovered</div>
<div class="r" style="left:41.30px;top:479.10px;width:535.70px;height:18.00px;background:#fff;"></div>
<div class="r" style="left:41.30px;top:478.60px;width:535.70px;height:1.00px;background:#ededed;"></div>
<div class="r" style="left:142.30px;top:479.10px;width:0.90px;height:18.00px;background:#f3f3f3;"></div>
<div class="r" style="left:214.50px;top:479.10px;width:0.90px;height:18.00px;background:#f3f3f3;"></div>
<div class="r" style="left:287.00px;top:479.10px;width:0.90px;height:18.00px;background:#f3f3f3;"></div>
<div class="r" style="left:359.50px;top:479.10px;width:0.90px;height:18.00px;background:#f3f3f3;"></div>
<div class="r" style="left:432.20px;top:479.10px;width:0.90px;height:18.00px;background:#f3f3f3;"></div>
<div class="r" style="left:504.50px;top:479.10px;width:0.90px;height:18.00px;background:#f3f3f3;"></div>
<svg class="r" style="left:45.30px;top:481.20px" width="13.2" height="13.2" viewBox="0 0 13.2 13.2"><rect width="13.2" height="13.2" rx="2.7" fill="#6b3fab"/><rect x="3.1" y="2.7" width="7.5" height="7.3" rx="1.7" fill="none" stroke="#fff" stroke-width="1.1"/><path d="M1.7 5.9H3.1L4.9 7.4 6.4 4.9 7.9 6.4 11.5 3.4" fill="none" stroke="#fff" stroke-width="1.15" stroke-linecap="round" stroke-linejoin="round"/></svg>
<div class="t" style="left:67.10px;top:487.00px;font-size:5.9px;color:#222;transform:scaleY(1.1);transform-origin:0 0;">28.06.2019</div>
<div class="t" style="left:102.20px;top:487.00px;font-size:5.9px;color:#555;transform:scaleY(1.1);transform-origin:0 0;">klo 08:00</div>
<div class="t" style="left:115.90px;top:485.00px;font-size:5.9px;color:#222;transform:scaleY(1.1);transform-origin:0 0;width:120.00px;text-align:center;">86 bpm</div>
<div class="t" style="left:189.75px;top:485.00px;font-size:5.9px;color:#222;transform:scaleY(1.1);transform-origin:0 0;width:120.00px;text-align:center;">22 ms</div>
<div class="t" style="left:263.25px;top:487.00px;font-size:5.9px;color:#222;transform:scaleY(1.1);transform-origin:0 0;width:120.00px;text-align:center;">88 bpm</div>
<div class="t" style="left:335.85px;top:487.00px;font-size:5.9px;color:#222;transform:scaleY(1.1);transform-origin:0 0;width:120.00px;text-align:center;"><b style="font-size:7.3px">68</b> bpm</div>
<div class="t" style="left:408.35px;top:488.00px;font-size:5.9px;color:#222;transform:scaleY(1.1);transform-origin:0 0;width:120.00px;text-align:center;"><b style="color:#d0202f">34</b> ms</div>
<div class="t" style="left:480.75px;top:487.00px;font-size:5.9px;color:#d0202f;transform:scaleY(1.1);transform-origin:0 0;width:120.00px;text-align:center;">Not recovered</div>
<div class="r" style="left:41.30px;top:497.10px;width:535.70px;height:18.20px;background:#fff;"></div>
<div class="r" style="left:41.30px;top:496.60px;width:535.70px;height:1.00px;background:#ededed;"></div>
<div class="r" style="left:142.30px;top:497.10px;width:0.90px;height:18.20px;background:#f3f3f3;"></div>
<div class="r" style="left:214.50px;top:497.10px;width:0.90px;height:18.20px;background:#f3f3f3;"></div>
<div class="r" style="left:287.00px;top:497.10px;width:0.90px;height:18.20px;background:#f3f3f3;"></div>
<div class="r" style="left:359.50px;top:497.10px;width:0.90px;height:18.20px;background:#f3f3f3;"></div>
<div class="r" style="left:432.20px;top:497.10px;width:0.90px;height:18.20px;background:#f3f3f3;"></div>
<div class="r" style="left:504.50px;top:497.10px;width:0.90px;height:18.20px;background:#f3f3f3;"></div>
<svg class="r" style="left:45.30px;top:499.30px" width="13.2" height="13.2" viewBox="0 0 13.2 13.2"><rect width="13.2" height="13.2" rx="2.7" fill="#6b3fab"/><rect x="3.1" y="2.7" width="7.5" height="7.3" rx="1.7" fill="none" stroke="#fff" stroke-width="1.1"/><path d="M1.7 5.9H3.1L4.9 7.4 6.4 4.9 7.9 6.4 11.5 3.4" fill="none" stroke="#fff" stroke-width="1.15" stroke-linecap="round" stroke-linejoin="round"/></svg>
<div class="t" style="left:67.10px;top:505.00px;font-size:5.9px;color:#222;transform:scaleY(1.1);transform-origin:0 0;">27.06.2019</div>
<div class="t" style="left:102.20px;top:505.00px;font-size:5.9px;color:#555;transform:scaleY(1.1);transform-origin:0 0;">klo 08:00</div>
<div class="t" style="left:116.90px;top:504.00px;font-size:5.9px;color:#222;transform:scaleY(1.1);transform-origin:0 0;width:120.00px;text-align:center;">83 bpm</div>
<div class="t" style="left:190.75px;top:504.00px;font-size:5.9px;color:#222;transform:scaleY(1.1);transform-origin:0 0;width:120.00px;text-align:center;">24 ms</div>
<div class="t" style="left:263.25px;top:504.00px;font-size:5.9px;color:#222;transform:scaleY(1.1);transform-origin:0 0;width:120.00px;text-align:center;">92 bpm</div>
<div class="t" style="left:335.85px;top:504.00px;font-size:5.9px;color:#222;transform:scaleY(1.1);transform-origin:0 0;width:120.00px;text-align:center;"><b style="font-size:7.3px">68</b> bpm</div>
<div class="t" style="left:408.35px;top:504.00px;font-size:5.9px;color:#222;transform:scaleY(1.1);transform-origin:0 0;width:120.00px;text-align:center;">28 ms</div>
<div class="t" style="left:480.75px;top:505.00px;font-size:5.9px;color:#3da43a;transform:scaleY(1.1);transform-origin:0 0;width:120.00px;text-align:center;">Recovered</div>
<div class="r" style="left:41.30px;top:515.30px;width:535.70px;height:18.00px;background:#fff;"></div>
<div class="r" style="left:41.30px;top:514.80px;width:535.70px;height:1.00px;background:#ededed;"></div>
<div class="r" style="left:142.30px;top:515.30px;width:0.90px;height:18.00px;background:#f3f3f3;"></div>
<div class="r" style="left:214.50px;top:515.30px;width:0.90px;height:18.00px;background:#f3f3f3;"></div>
<div class="r" style="left:287.00px;top:515.30px;width:0.90px;height:18.00px;background:#f3f3f3;"></div>
<div class="r" style="left:359.50px;top:515.30px;width:0.90px;height:18.00px;background:#f3f3f3;"></div>
<div class="r" style="left:432.20px;top:515.30px;width:0.90px;height:18.00px;background:#f3f3f3;"></div>
<div class="r" style="left:504.50px;top:515.30px;width:0.90px;height:18.00px;background:#f3f3f3;"></div>
<svg class="r" style="left:44.6px;top:517.4px" width="14.5" height="14.5" viewBox="0 0 14.5 14.5"><rect x="1.9" y="2.1" width="11.6" height="11.6" rx="2.4" fill="#6b3fab"/><rect x="0.5" y="0.5" width="11.6" height="11.6" rx="2.4" fill="#6b3fab" stroke="#fff" stroke-width="0.6"/><g transform="translate(0.3,0.1) scale(0.88)"><rect x="3" y="2.7" width="7.5" height="7.3" rx="1.7" fill="none" stroke="#fff" stroke-width="1.15"/><path d="M1.7 5.9H3.1L4.9 7.4 6.4 4.9 7.9 6.4 11.5 3.4" fill="none" stroke="#fff" stroke-width="1.2" stroke-linecap="round" stroke-linejoin="round"/></g></svg>
<div class="t" style="left:67.10px;top:523.00px;font-size:5.9px;color:#222;transform:scaleY(1.1);transform-origin:0 0;">26.06.2019</div>
<div class="t" style="left:116.90px;top:522.00px;font-size:5.9px;color:#222;transform:scaleY(1.1);transform-origin:0 0;width:120.00px;text-align:center;">74 bpm</div>
<div class="t" style="left:189.25px;top:522.00px;font-size:5.9px;color:#222;transform:scaleY(1.1);transform-origin:0 0;width:120.00px;text-align:center;">22 ms</div>
<div class="t" style="left:261.75px;top:523.00px;font-size:5.9px;color:#222;transform:scaleY(1.1);transform-origin:0 0;width:120.00px;text-align:center;">88 bpm</div>
<div class="t" style="left:335.85px;top:522.00px;font-size:5.9px;color:#222;transform:scaleY(1.1);transform-origin:0 0;width:120.00px;text-align:center;"><b style="font-size:7.3px">68</b> bpm</div>
<div class="t" style="left:408.35px;top:523.00px;font-size:5.9px;color:#222;transform:scaleY(1.1);transform-origin:0 0;width:120.00px;text-align:center;">26 ms</div>
<div class="t" style="left:480.75px;top:523.00px;font-size:5.9px;color:#3da43a;transform:scaleY(1.1);transform-origin:0 0;width:120.00px;text-align:center;">Recovered</div>
<svg class="r" style="left:131.1px;top:522.4px" width="5.3" height="3.8" viewBox="0 0 5.3 3.8"><path d="M0 0H5.3L2.65 3.8Z" fill="#666"/></svg>
<div class="r" style="left:41.30px;top:533.30px;width:535.70px;height:28.70px;background:#e6e4ea;"></div>
<div class="r" style="left:142.30px;top:533.30px;width:0.90px;height:28.70px;background:#eeedf1;"></div>
<div class="r" style="left:214.50px;top:533.30px;width:0.90px;height:28.70px;background:#eeedf1;"></div>
<div class="r" style="left:287.00px;top:533.30px;width:0.90px;height:28.70px;background:#eeedf1;"></div>
<div class="r" style="left:359.50px;top:533.30px;width:0.90px;height:28.70px;background:#eeedf1;"></div>
<div class="r" style="left:432.20px;top:533.30px;width:0.90px;height:28.70px;background:#eeedf1;"></div>
<div class="r" style="left:504.50px;top:533.30px;width:0.90px;height:28.70px;background:#eeedf1;"></div>
<svg class="r" style="left:45.1px;top:536.3px" width="13" height="15.7" viewBox="0 0 13 15.7"><rect width="13" height="15.7" rx="2.8" fill="#6b3fab"/><rect x="3" y="4.1" width="7.5" height="7.7" rx="1.7" fill="none" stroke="#fff" stroke-width="1.1"/><path d="M1.6 7.2H3L4.8 8.8 6.3 6.2 7.8 7.8 11.4 4.6" fill="none" stroke="#fff" stroke-width="1.15" stroke-linecap="round" stroke-linejoin="round"/></svg>
<div class="t" style="left:67.70px;top:543.00px;font-size:5.9px;color:#222;transform:scaleY(1.1);transform-origin:0 0;">klo 7:20</div>
<div class="t" style="left:67.70px;top:551.00px;font-size:5.9px;color:#888;transform:scaleY(1.1);transform-origin:0 0;">Baseline</div>
<div class="t" style="left:117.40px;top:542.00px;font-size:5.9px;color:#222;transform:scaleY(1.1);transform-origin:0 0;width:120.00px;text-align:center;">76 bpm</div>
<div class="t" style="left:190.75px;top:542.00px;font-size:5.9px;color:#222;transform:scaleY(1.1);transform-origin:0 0;width:120.00px;text-align:center;"><b style="color:#d0202f">19</b> ms</div>
<div class="t" style="left:190.75px;top:551.00px;font-size:5.9px;color:#999;transform:scaleY(1.1);transform-origin:0 0;width:120.00px;text-align:center;">( 20 - 28 )</div>
<div class="t" style="left:263.25px;top:542.00px;font-size:5.9px;color:#222;transform:scaleY(1.1);transform-origin:0 0;width:120.00px;text-align:center;">89 bpm</div>
<div class="t" style="left:335.85px;top:542.00px;font-size:5.9px;color:#222;transform:scaleY(1.1);transform-origin:0 0;width:120.00px;text-align:center;"><b style="font-size:7.3px">69</b> bpm</div>
<div class="t" style="left:408.35px;top:542.00px;font-size:5.9px;color:#222;transform:scaleY(1.1);transform-origin:0 0;width:120.00px;text-align:center;">26 ms</div>
<div class="t" style="left:408.35px;top:551.00px;font-size:5.9px;color:#999;transform:scaleY(1.1);transform-origin:0 0;width:120.00px;text-align:center;">( 24 - 32 )</div>
<div class="t" style="left:480.75px;top:542.00px;font-size:5.9px;color:#3da43a;transform:scaleY(1.1);transform-origin:0 0;font-weight:bold;width:120.00px;text-align:center;">Recovered</div>
<div class="r" style="left:41.30px;top:562.00px;width:535.70px;height:133.50px;background:#f5f5f5;"></div>
<svg class="r" style="left:0;top:0" width="616" height="785" viewBox="0 0 616 785"><path d="M57.5 589.1H571.7" stroke="#e3dfec" stroke-width="0.8"/><path d="M57.5 609.3H571.7" stroke="#e3dfec" stroke-width="0.8"/><path d="M57.5 630.5H571.7" stroke="#e3dfec" stroke-width="0.8"/><path d="M57.5 650.5H571.7" stroke="#e3dfec" stroke-width="0.8"/><path d="M103.6 567.5V658.3" stroke="#e3dfec" stroke-width="0.8"/><path d="M151.3 567.5V658.3" stroke="#e3dfec" stroke-width="0.8"/><path d="M199.0 567.5V658.3" stroke="#e3dfec" stroke-width="0.8"/><path d="M246.6 567.5V658.3" stroke="#e3dfec" stroke-width="0.8"/><path d="M294.3 567.5V658.3" stroke="#e3dfec" stroke-width="0.8"/><path d="M342.0 567.5V658.3" stroke="#e3dfec" stroke-width="0.8"/><path d="M389.7 567.5V658.3" stroke="#e3dfec" stroke-width="0.8"/><path d="M437.4 567.5V658.3" stroke="#e3dfec" stroke-width="0.8"/><path d="M485.0 567.5V658.3" stroke="#e3dfec" stroke-width="0.8"/><path d="M532.7 567.5V658.3" stroke="#e3dfec" stroke-width="0.8"/><rect x="57.5" y="567.5" width="514.2" height="90.8" fill="none" stroke="#d6cfe8" stroke-width="1"/><polyline points="58.1,652.6 60.7,652.6 62.8,654.4 68.0,644.8 71.1,645.3 73.7,647.9 75.8,651.0 79.7,654.4 82.3,650.5 85.6,650.5 87.5,648.7 90.1,650.5 93.4,649.2 96.0,640.6 98.6,642.2 103.0,642.2 106.4,645.8 109.5,646.9 114.2,652.6 117.3,647.9 119.4,647.9 121.2,640.6 125.1,640.6 128.2,638.0 130.3,640.1 132.4,634.4 135.5,638.3 140.7,644.0 143.3,642.7 145.4,646.6 149.0,645.8 152.4,637.0 155.0,634.4 157.1,635.7 158.9,634.4 161.0,636.2 162.8,632.3 170.6,638.0 171.9,637.0 177.6,643.2 182.3,636.2 184.9,637.5 187.5,637.0 191.4,632.3 195.3,636.2 197.3,635.7 199.2,634.9 203.0,639.6 205.6,634.4 210.3,634.4 212.1,638.0 221.7,638.0 223.0,640.1 225.6,636.2 228.2,634.4 229.5,630.3 232.1,631.8 234.7,631.8 236.0,633.6 237.8,629.7 243.2,638.0 246.4,648.4 248.4,644.8 250.3,645.8 252.9,644.5 255.5,646.9 259.4,646.1 262.0,644.8 265.8,646.1 278.1,646.1 280.6,654.4 285.3,652.6 287.9,642.2 292.6,633.6 295.7,634.9 298.3,633.6 300.9,640.1 307.4,629.7 312.1,642.7 313.9,622.0 315.7,618.1 317.8,629.2 323.0,622.7 325.6,621.4 329.5,616.8 336.0,590.8 337.8,601.2 339.9,588.2 342.5,582.5 347.1,579.9 350.3,593.4 351.6,615.5 353.6,617.3 355.5,615.5 359.4,619.4 361.4,611.6 365.1,619.4 370.2,617.3 374.9,622.0 376.7,615.5 381.9,607.7 383.7,609.5 385.8,609.0 388.9,603.2 391.0,603.8 394.1,611.6 397.5,607.7 401.4,607.1 404.0,603.8 410.5,586.1 414.4,582.5 416.2,582.5 419.5,590.3 423.4,594.7 427.3,596.8 431.2,589.5 433.8,586.9 436.4,581.7 439.0,579.9 440.3,576.5 442.4,576.5 444.2,580.4 447.6,594.7 450.2,594.7 453.3,590.8 457.2,590.0 463.7,587.1 468.9,587.1 471.0,589.5 472.8,587.7 476.2,599.1 477.2,595.5 481.4,593.4 482.4,593.5 484.9,593.5 486.5,594.7 487.8,592.4 492.7,592.4 494.6,596.0 497.0,602.5 499.2,604.9 501.4,605.4 502.7,609.0 507.9,609.0 509.5,603.3 511.2,603.8 514.9,611.4 517.3,611.4 523.8,599.2 525.8,599.2 528.7,603.3 531.6,609.0 534.1,609.0 536.8,602.5 540.9,596.3 545.7,596.3 551.4,589.5 553.9,585.4 555.5,584.6 558.7,580.1 561.2,583.0 562.5,586.2 564.4,622.0 566.9,630.9 569.6,634.1 571.7,625.2" fill="none" stroke="#cf283a" stroke-width="1.1" stroke-linejoin="round"/></svg>
<div class="t" style="left:30.00px;top:587.00px;font-size:5.0px;color:#444;width:22.00px;text-align:right;">90</div>
<div class="t" style="left:30.00px;top:607.00px;font-size:5.0px;color:#444;width:22.00px;text-align:right;">80</div>
<div class="t" style="left:30.00px;top:628.00px;font-size:5.0px;color:#444;width:22.00px;text-align:right;">70</div>
<div class="t" style="left:30.00px;top:648.00px;font-size:5.0px;color:#444;width:22.00px;text-align:right;">60</div>
<div class="t" style="left:83.60px;top:665.00px;font-size:5.1px;color:#555;width:40.00px;text-align:center;">00:00:40</div>
<div class="t" style="left:131.28px;top:665.00px;font-size:5.1px;color:#555;width:40.00px;text-align:center;">00:01:00</div>
<div class="t" style="left:178.96px;top:665.00px;font-size:5.1px;color:#555;width:40.00px;text-align:center;">00:01:20</div>
<div class="t" style="left:226.64px;top:665.00px;font-size:5.1px;color:#555;width:40.00px;text-align:center;">00:01:40</div>
<div class="t" style="left:274.32px;top:665.00px;font-size:5.1px;color:#555;width:40.00px;text-align:center;">00:02:00</div>
<div class="t" style="left:322.00px;top:665.00px;font-size:5.1px;color:#555;width:40.00px;text-align:center;">00:02:20</div>
<div class="t" style="left:369.68px;top:665.00px;font-size:5.1px;color:#555;width:40.00px;text-align:center;">00:02:40</div>
<div class="t" style="left:417.36px;top:665.00px;font-size:5.1px;color:#555;width:40.00px;text-align:center;">00:03:00</div>
<div class="t" style="left:465.04px;top:665.00px;font-size:5.1px;color:#555;width:40.00px;text-align:center;">00:03:20</div>
<div class="t" style="left:512.72px;top:665.00px;font-size:5.1px;color:#555;width:40.00px;text-align:center;">00:03:40</div>
<div class="r" style="left:525.20px;top:676.90px;width:43.90px;height:12.20px;background:#fff;border-radius:2px;box-shadow:0 0.5px 1.5px rgba(0,0,0,0.3);"></div>
<div class="t" style="left:525.20px;top:681.00px;font-size:5.9px;color:#222;transform:scaleY(1.1);transform-origin:0 0;width:44.00px;text-align:center;">Remove</div>
<div class="r" style="left:41.30px;top:695.50px;width:535.70px;height:18.20px;background:#fff;"></div>
<div class="r" style="left:41.30px;top:695.00px;width:535.70px;height:1.00px;background:#ededed;"></div>
<div class="r" style="left:142.30px;top:695.50px;width:0.90px;height:18.20px;background:#f3f3f3;"></div>
<div class="r" style="left:214.50px;top:695.50px;width:0.90px;height:18.20px;background:#f3f3f3;"></div>
<div class="r" style="left:287.00px;top:695.50px;width:0.90px;height:18.20px;background:#f3f3f3;"></div>
<div class="r" style="left:359.50px;top:695.50px;width:0.90px;height:18.20px;background:#f3f3f3;"></div>
<div class="r" style="left:432.20px;top:695.50px;width:0.90px;height:18.20px;background:#f3f3f3;"></div>
<div class="r" style="left:504.50px;top:695.50px;width:0.90px;height:18.20px;background:#f3f3f3;"></div>
<svg class="r" style="left:45.30px;top:697.70px" width="13.2" height="13.2" viewBox="0 0 13.2 13.2"><rect width="13.2" height="13.2" rx="2.7" fill="#6b3fab"/><rect x="3.1" y="2.7" width="7.5" height="7.3" rx="1.7" fill="none" stroke="#fff" stroke-width="1.1"/><path d="M1.7 5.9H3.1L4.9 7.4 6.4 4.9 7.9 6.4 11.5 3.4" fill="none" stroke="#fff" stroke-width="1.15" stroke-linecap="round" stroke-linejoin="round"/></svg>
<div class="t" style="left:67.10px;top:704.00px;font-size:5.9px;color:#222;transform:scaleY(1.1);transform-origin:0 0;">klo 6:20</div>
<div class="t" style="left:118.40px;top:703.00px;font-size:5.9px;color:#222;transform:scaleY(1.1);transform-origin:0 0;width:120.00px;text-align:center;">74 bpm</div>
<div class="t" style="left:190.75px;top:703.00px;font-size:5.9px;color:#222;transform:scaleY(1.1);transform-origin:0 0;width:120.00px;text-align:center;">22 ms</div>
<div class="t" style="left:263.25px;top:703.00px;font-size:5.9px;color:#222;transform:scaleY(1.1);transform-origin:0 0;width:120.00px;text-align:center;">88 bpm</div>
<div class="t" style="left:335.85px;top:704.00px;font-size:5.9px;color:#222;transform:scaleY(1.1);transform-origin:0 0;width:120.00px;text-align:center;"><b style="font-size:7.3px">68</b> bpm</div>
<div class="t" style="left:408.35px;top:703.00px;font-size:5.9px;color:#222;transform:scaleY(1.1);transform-origin:0 0;width:120.00px;text-align:center;">26 ms</div>
<div class="t" style="left:480.75px;top:702.00px;font-size:5.9px;color:#3da43a;transform:scaleY(1.1);transform-origin:0 0;width:120.00px;text-align:center;">Recovered</div>
<div class="r" style="left:41.30px;top:713.70px;width:535.70px;height:18.30px;background:#fff;"></div>
<div class="r" style="left:41.30px;top:713.20px;width:535.70px;height:1.00px;background:#ededed;"></div>
<div class="r" style="left:142.30px;top:713.70px;width:0.90px;height:18.30px;background:#f3f3f3;"></div>
<div class="r" style="left:214.50px;top:713.70px;width:0.90px;height:18.30px;background:#f3f3f3;"></div>
<div class="r" style="left:287.00px;top:713.70px;width:0.90px;height:18.30px;background:#f3f3f3;"></div>
<div class="r" style="left:359.50px;top:713.70px;width:0.90px;height:18.30px;background:#f3f3f3;"></div>
<div class="r" style="left:432.20px;top:713.70px;width:0.90px;height:18.30px;background:#f3f3f3;"></div>
<div class="r" style="left:504.50px;top:713.70px;width:0.90px;height:18.30px;background:#f3f3f3;"></div>
<svg class="r" style="left:45.30px;top:715.95px" width="13.2" height="13.2" viewBox="0 0 13.2 13.2"><rect width="13.2" height="13.2" rx="2.7" fill="#6b3fab"/><rect x="3.1" y="2.7" width="7.5" height="7.3" rx="1.7" fill="none" stroke="#fff" stroke-width="1.1"/><path d="M1.7 5.9H3.1L4.9 7.4 6.4 4.9 7.9 6.4 11.5 3.4" fill="none" stroke="#fff" stroke-width="1.15" stroke-linecap="round" stroke-linejoin="round"/></svg>
<div class="t" style="left:67.10px;top:722.00px;font-size:5.9px;color:#222;transform:scaleY(1.1);transform-origin:0 0;">25.06.2019</div>
<div class="t" style="left:102.20px;top:722.00px;font-size:5.9px;color:#aaa;transform:scaleY(1.1);transform-origin:0 0;">klo 08:00</div>
<div class="t" style="left:118.40px;top:721.00px;font-size:5.9px;color:#222;transform:scaleY(1.1);transform-origin:0 0;width:120.00px;text-align:center;">76 bpm</div>
<div class="t" style="left:190.75px;top:721.00px;font-size:5.9px;color:#222;transform:scaleY(1.1);transform-origin:0 0;width:120.00px;text-align:center;">23 ms</div>
<div class="t" style="left:263.25px;top:722.00px;font-size:5.9px;color:#222;transform:scaleY(1.1);transform-origin:0 0;width:120.00px;text-align:center;">92 bpm</div>
<div class="t" style="left:334.85px;top:721.00px;font-size:5.9px;color:#222;transform:scaleY(1.1);transform-origin:0 0;width:120.00px;text-align:center;"><b style="font-size:7.3px">68</b> bpm</div>
<div class="t" style="left:408.35px;top:721.00px;font-size:5.9px;color:#222;transform:scaleY(1.1);transform-origin:0 0;width:120.00px;text-align:center;">28 ms</div>
<div class="t" style="left:480.75px;top:721.00px;font-size:5.9px;color:#3da43a;transform:scaleY(1.1);transform-origin:0 0;width:120.00px;text-align:center;">Recovered</div>
<div class="r" style="left:41.30px;top:732.00px;width:535.70px;height:18.30px;background:#fff;"></div>
<div class="r" style="left:41.30px;top:731.50px;width:535.70px;height:1.00px;background:#ededed;"></div>
<div class="r" style="left:142.30px;top:732.00px;width:0.90px;height:18.30px;background:#f3f3f3;"></div>
<div class="r" style="left:214.50px;top:732.00px;width:0.90px;height:18.30px;background:#f3f3f3;"></div>
<div class="r" style="left:287.00px;top:732.00px;width:0.90px;height:18.30px;background:#f3f3f3;"></div>
<div class="r" style="left:359.50px;top:732.00px;width:0.90px;height:18.30px;background:#f3f3f3;"></div>
<div class="r" style="left:432.20px;top:732.00px;width:0.90px;height:18.30px;background:#f3f3f3;"></div>
<div class="r" style="left:504.50px;top:732.00px;width:0.90px;height:18.30px;background:#f3f3f3;"></div>
<svg class="r" style="left:45.30px;top:734.25px" width="13.2" height="13.2" viewBox="0 0 13.2 13.2"><rect width="13.2" height="13.2" rx="2.7" fill="#6b3fab"/><rect x="3.1" y="2.7" width="7.5" height="7.3" rx="1.7" fill="none" stroke="#fff" stroke-width="1.1"/><path d="M1.7 5.9H3.1L4.9 7.4 6.4 4.9 7.9 6.4 11.5 3.4" fill="none" stroke="#fff" stroke-width="1.15" stroke-linecap="round" stroke-linejoin="round"/></svg>
<div class="t" style="left:67.10px;top:740.00px;font-size:5.9px;color:#222;transform:scaleY(1.1);transform-origin:0 0;">24.06.2019</div>
<div class="t" style="left:102.20px;top:740.00px;font-size:5.9px;color:#aaa;transform:scaleY(1.1);transform-origin:0 0;">klo 08:00</div>
<div class="t" style="left:118.40px;top:741.00px;font-size:5.9px;color:#222;transform:scaleY(1.1);transform-origin:0 0;width:120.00px;text-align:center;">83 bpm</div>
<div class="t" style="left:190.75px;top:740.00px;font-size:5.9px;color:#222;transform:scaleY(1.1);transform-origin:0 0;width:120.00px;text-align:center;"><b style="color:#d0202f">21</b> ms</div>
<div class="t" style="left:263.25px;top:739.00px;font-size:5.9px;color:#222;transform:scaleY(1.1);transform-origin:0 0;width:120.00px;text-align:center;">88 bpm</div>
<div class="t" style="left:335.85px;top:739.00px;font-size:5.9px;color:#222;transform:scaleY(1.1);transform-origin:0 0;width:120.00px;text-align:center;"><b style="font-size:7.3px">67</b> bpm</div>
<div class="t" style="left:409.35px;top:738.00px;font-size:5.9px;color:#222;transform:scaleY(1.1);transform-origin:0 0;width:120.00px;text-align:center;">27 ms</div>
<div class="t" style="left:480.75px;top:739.00px;font-size:5.9px;color:#d0202f;transform:scaleY(1.1);transform-origin:0 0;width:120.00px;text-align:center;">Not recovered</div>
<div class="r" style="left:41.30px;top:750.30px;width:535.70px;height:17.60px;background:#fff;"></div>
<div class="r" style="left:41.30px;top:749.80px;width:535.70px;height:1.00px;background:#ededed;"></div>
<div class="r" style="left:142.30px;top:750.30px;width:0.90px;height:17.60px;background:#f3f3f3;"></div>
<div class="r" style="left:214.50px;top:750.30px;width:0.90px;height:17.60px;background:#f3f3f3;"></div>
<div class="r" style="left:287.00px;top:750.30px;width:0.90px;height:17.60px;background:#f3f3f3;"></div>
<div class="r" style="left:359.50px;top:750.30px;width:0.90px;height:17.60px;background:#f3f3f3;"></div>
<div class="r" style="left:432.20px;top:750.30px;width:0.90px;height:17.60px;background:#f3f3f3;"></div>
<div class="r" style="left:504.50px;top:750.30px;width:0.90px;height:17.60px;background:#f3f3f3;"></div>
<svg class="r" style="left:45.30px;top:752.20px" width="13.2" height="13.2" viewBox="0 0 13.2 13.2"><rect width="13.2" height="13.2" rx="2.7" fill="#6b3fab"/><rect x="3.1" y="2.7" width="7.5" height="7.3" rx="1.7" fill="none" stroke="#fff" stroke-width="1.1"/><path d="M1.7 5.9H3.1L4.9 7.4 6.4 4.9 7.9 6.4 11.5 3.4" fill="none" stroke="#fff" stroke-width="1.15" stroke-linecap="round" stroke-linejoin="round"/></svg>
<div class="t" style="left:67.10px;top:758.00px;font-size:5.9px;color:#222;transform:scaleY(1.1);transform-origin:0 0;">23.06.2019</div>
<div class="t" style="left:102.20px;top:758.00px;font-size:5.9px;color:#aaa;transform:scaleY(1.1);transform-origin:0 0;">klo 08:00</div>
<div class="t" style="left:118.40px;top:757.00px;font-size:5.9px;color:#222;transform:scaleY(1.1);transform-origin:0 0;width:120.00px;text-align:center;">95 bpm</div>
<div class="t" style="left:190.75px;top:757.00px;font-size:5.9px;color:#222;transform:scaleY(1.1);transform-origin:0 0;width:120.00px;text-align:center;"><b style="color:#d0202f">22</b> ms</div>
<div class="t" style="left:263.25px;top:758.00px;font-size:5.9px;color:#222;transform:scaleY(1.1);transform-origin:0 0;width:120.00px;text-align:center;">92 bpm</div>
<div class="t" style="left:335.85px;top:757.00px;font-size:5.9px;color:#222;transform:scaleY(1.1);transform-origin:0 0;width:120.00px;text-align:center;"><b style="font-size:7.3px">67</b> bpm</div>
<div class="t" style="left:408.35px;top:756.00px;font-size:5.9px;color:#222;transform:scaleY(1.1);transform-origin:0 0;width:120.00px;text-align:center;"><b style="color:#d0202f">21</b> ms</div>
<div class="t" style="left:480.75px;top:756.00px;font-size:5.9px;color:#d0202f;transform:scaleY(1.1);transform-origin:0 0;width:120.00px;text-align:center;">Not recovered</div>
</div>
</body></html>
